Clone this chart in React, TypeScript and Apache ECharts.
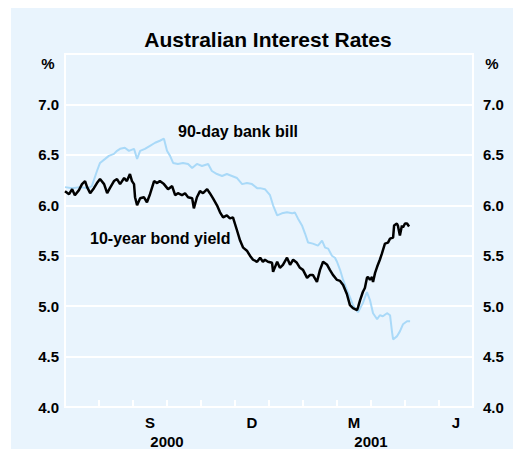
import React, { useEffect, useRef } from "react";
import * as echarts from "echarts";

// x = months since 1 July 2000, y = per cent
const bill90: [number, number][] = [
  [0.0, 6.18], [0.21, 6.17], [0.44, 6.18], [0.68, 6.17], [0.79, 6.19], [0.94, 6.34],
  [1.03, 6.42], [1.18, 6.46], [1.29, 6.49], [1.44, 6.51], [1.53, 6.54], [1.62, 6.56],
  [1.76, 6.57], [1.88, 6.54], [2.03, 6.56], [2.12, 6.46], [2.21, 6.54], [2.35, 6.56],
  [2.5, 6.59], [2.65, 6.62], [2.79, 6.64], [2.91, 6.66], [3.0, 6.54], [3.09, 6.49],
  [3.18, 6.42], [3.32, 6.41], [3.47, 6.42], [3.62, 6.41], [3.74, 6.37], [3.88, 6.41],
  [4.03, 6.39], [4.21, 6.41], [4.32, 6.34], [4.47, 6.31], [4.62, 6.29], [4.76, 6.31],
  [4.91, 6.29], [5.06, 6.27], [5.21, 6.21], [5.35, 6.22], [5.5, 6.21], [5.65, 6.17],
  [5.74, 6.17], [5.88, 6.16], [6.03, 6.1], [6.12, 6.0], [6.24, 5.9], [6.38, 5.92],
  [6.53, 5.93], [6.68, 5.92], [6.76, 5.93], [6.85, 5.87], [6.97, 5.8], [7.06, 5.72],
  [7.15, 5.63], [7.29, 5.62], [7.44, 5.6], [7.56, 5.65], [7.65, 5.58], [7.74, 5.57],
  [7.85, 5.5], [7.94, 5.48], [8.0, 5.44], [8.09, 5.36], [8.18, 5.26], [8.29, 5.16],
  [8.38, 5.09], [8.47, 5.01], [8.62, 4.94], [8.76, 5.03], [8.88, 5.14], [8.97, 5.06],
  [9.06, 4.93], [9.18, 4.87], [9.26, 4.91], [9.35, 4.9], [9.47, 4.93], [9.56, 4.91],
  [9.62, 4.74], [9.65, 4.67], [9.76, 4.7], [9.85, 4.75], [9.94, 4.82], [10.06, 4.85],
  [10.15, 4.85],
];

const bond10: [number, number][] = [
  [0.0, 6.14], [0.12, 6.11], [0.21, 6.16], [0.29, 6.1], [0.41, 6.15], [0.5, 6.21],
  [0.59, 6.24], [0.65, 6.18], [0.74, 6.12], [0.85, 6.17], [0.94, 6.22], [1.03, 6.26],
  [1.15, 6.21], [1.24, 6.12], [1.32, 6.17], [1.44, 6.24], [1.53, 6.26], [1.62, 6.21],
  [1.74, 6.27], [1.82, 6.24], [1.91, 6.31], [1.97, 6.24], [2.03, 6.21], [2.06, 6.08],
  [2.12, 6.0], [2.21, 6.07], [2.32, 6.08], [2.41, 6.03], [2.5, 6.11], [2.62, 6.24],
  [2.71, 6.22], [2.79, 6.24], [2.91, 6.21], [3.03, 6.16], [3.15, 6.19], [3.24, 6.1],
  [3.32, 6.12], [3.44, 6.1], [3.53, 6.12], [3.62, 6.08], [3.74, 6.07], [3.79, 5.97],
  [3.88, 6.08], [3.97, 6.14], [4.06, 6.12], [4.18, 6.16], [4.26, 6.12], [4.35, 6.07],
  [4.47, 6.0], [4.56, 5.93], [4.65, 5.88], [4.76, 5.9], [4.85, 5.87], [4.94, 5.88],
  [5.06, 5.75], [5.15, 5.65], [5.24, 5.58], [5.35, 5.55], [5.44, 5.5], [5.53, 5.46],
  [5.65, 5.44], [5.74, 5.48], [5.82, 5.44], [5.88, 5.46], [5.97, 5.44], [6.09, 5.43],
  [6.12, 5.34], [6.24, 5.44], [6.32, 5.38], [6.41, 5.41], [6.53, 5.48], [6.62, 5.41],
  [6.71, 5.46], [6.82, 5.43], [6.91, 5.38], [7.0, 5.36], [7.12, 5.28], [7.21, 5.31],
  [7.29, 5.31], [7.41, 5.24], [7.5, 5.36], [7.59, 5.44], [7.71, 5.41], [7.79, 5.36],
  [7.88, 5.31], [8.0, 5.26], [8.09, 5.25], [8.18, 5.21], [8.29, 5.12], [8.38, 5.01],
  [8.47, 4.98], [8.59, 4.96], [8.62, 4.99], [8.68, 5.06], [8.76, 5.14], [8.82, 5.18],
  [8.88, 5.28], [8.91, 5.29], [8.97, 5.26], [9.03, 5.29], [9.06, 5.24], [9.12, 5.33],
  [9.18, 5.39], [9.26, 5.46], [9.32, 5.52], [9.41, 5.62], [9.5, 5.63], [9.56, 5.67],
  [9.65, 5.68], [9.68, 5.8], [9.76, 5.82], [9.79, 5.8], [9.85, 5.7], [9.91, 5.8],
  [9.94, 5.78], [10.0, 5.82], [10.06, 5.82], [10.12, 5.79],
];

const monthLabels = ["", "", "S", "", "", "D", "", "", "M", "", "", "J"];
const yearLabels = ["2000", "2001"];

const FONT = "'Liberation Sans', Arial, Helvetica, sans-serif";

export default function App() {
  const ref = useRef<HTMLDivElement>(null);
  useEffect(() => {
    if (!ref.current) return;
    const chart = echarts.init(ref.current, undefined, { renderer: "svg" });
    const tickLabel = {
      fontFamily: FONT,
      fontWeight: "bold" as const,
      fontSize: 15,
      color: "#000",
    };
    chart.setOption({
      animation: false,
      backgroundColor: "#e9f4fd",
      grid: {
        left: 54,
        right: 48,
        top: 46,
        bottom: 41,
        show: true,
        borderColor: "#ffffff",
        borderWidth: 2,
        backgroundColor: "transparent",
      },
      xAxis: [
        {
          type: "value",
          min: 0,
          max: 12,
          interval: 1,
          position: "bottom",
          axisLine: { show: true, lineStyle: { color: "#ffffff", width: 2 } },
          axisTick: { show: true, inside: true, length: 7, lineStyle: { color: "#ffffff", width: 2 } },
          axisLabel: { show: false },
          splitLine: { show: false },
        },
        {
          type: "category",
          data: monthLabels,
          position: "bottom",
          boundaryGap: true,
          axisLine: { show: false },
          axisTick: { show: false },
          axisLabel: { ...tickLabel, margin: 8, interval: 0 },
          splitLine: { show: false },
        },
        {
          type: "category",
          data: yearLabels,
          position: "bottom",
          offset: 19,
          boundaryGap: true,
          axisLine: { show: false },
          axisTick: { show: false },
          axisLabel: { ...tickLabel, margin: 8, interval: 0 },
          splitLine: { show: false },
        },
      ],
      yAxis: [
        {
          type: "value",
          min: 4,
          max: 7.5,
          interval: 0.5,
          position: "left",
          axisLine: { show: false },
          axisTick: { show: false },
          axisLabel: {
            ...tickLabel,
            margin: 6,
            showMaxLabel: false,
            formatter: (v: number) => (v >= 7.5 ? "" : v.toFixed(1)),
          },
          splitLine: { show: true, lineStyle: { color: "#ffffff", width: 2 } },
        },
        {
          type: "value",
          min: 4,
          max: 7.5,
          interval: 0.5,
          position: "right",
          axisLine: { show: false },
          axisTick: { show: false },
          axisLabel: {
            ...tickLabel,
            margin: 10,
            showMaxLabel: false,
            formatter: (v: number) => (v >= 7.5 ? "" : v.toFixed(1)),
          },
          splitLine: { show: false },
        },
      ],
      series: [
        {
          name: "90-day bank bill",
          type: "line",
          xAxisIndex: 0,
          yAxisIndex: 0,
          data: bill90,
          showSymbol: false,
          symbol: "none",
          lineStyle: { color: "#a9d9f8", width: 2 },
          z: 3,
        },
        {
          name: "10-year bond yield",
          type: "line",
          xAxisIndex: 0,
          yAxisIndex: 0,
          data: bond10,
          showSymbol: false,
          symbol: "none",
          lineStyle: { color: "#000000", width: 2.5 },
          z: 4,
        },
      ],
      graphic: [
        {
          type: "text",
          x: 257,
          y: 31,
          style: {
            text: "Australian Interest Rates",
            fontFamily: FONT,
            fontWeight: "bold",
            fontSize: 21,
            fill: "#000",
            align: "center",
            verticalAlign: "middle",
          },
        },
        {
          type: "text",
          x: 37,
          y: 55,
          style: { text: "%", ...tickLabel, fill: "#000", align: "center", verticalAlign: "middle" },
        },
        {
          type: "text",
          x: 481,
          y: 55,
          style: { text: "%", ...tickLabel, fill: "#000", align: "center", verticalAlign: "middle" },
        },
        {
          type: "text",
          x: 167,
          y: 123,
          style: {
            text: "90-day bank bill",
            fontFamily: FONT,
            fontWeight: "bold",
            fontSize: 16,
            fill: "#000",
            align: "left",
            verticalAlign: "middle",
          },
        },
        {
          type: "text",
          x: 79,
          y: 230,
          style: {
            text: "10-year bond yield",
            fontFamily: FONT,
            fontWeight: "bold",
            fontSize: 16,
            fill: "#000",
            align: "left",
            verticalAlign: "middle",
          },
        },
      ],
    });
    return () => chart.dispose();
  }, []);
  return <div ref={ref} style={{ width: 510, height: 441, marginLeft: 3 }} />;
}
